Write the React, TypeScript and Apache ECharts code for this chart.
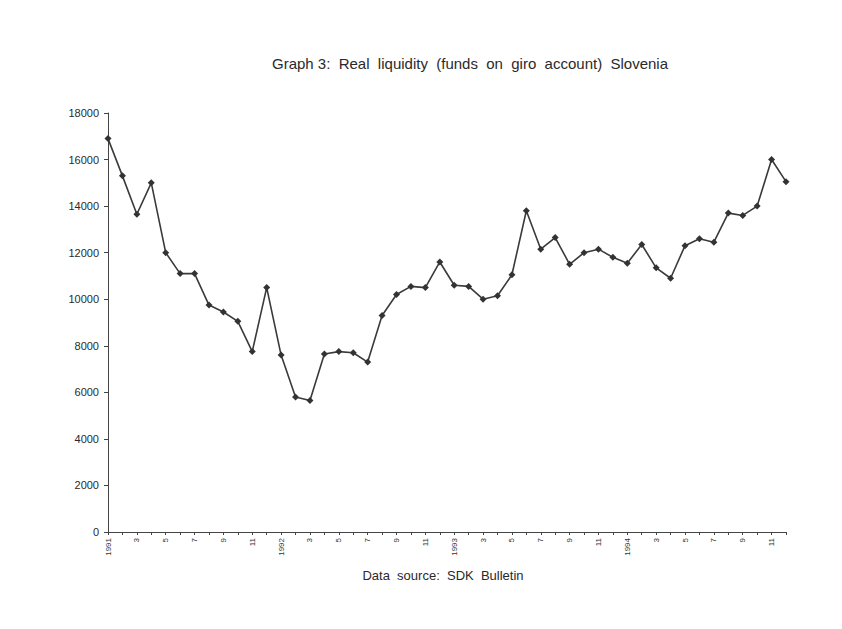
import React, { useEffect, useRef } from "react";
import * as echarts from "echarts";

const years = ["1991", "1992", "1993", "1994"];
const categories: string[] = years.flatMap((y) =>
  Array.from({ length: 12 }, (_, m) => (m === 0 ? y : String(m + 1)))
);

const liquidity1991 = [16900, 15300, 13650, 15000, 12000, 11100, 11100, 9750, 9450, 9050, 7750, 10500];
const liquidity1992 = [7600, 5800, 5650, 7650, 7750, 7700, 7300, 9300, 10200, 10550, 10500, 11600];
const liquidity1993 = [10600, 10550, 10000, 10150, 11050, 13800, 12150, 12650, 11500, 12000, 12150, 11800];
const liquidity1994 = [11550, 12350, 11350, 10900, 12300, 12600, 12450, 13700, 13600, 14000, 16000, 15050];

const values = [...liquidity1991, ...liquidity1992, ...liquidity1993, ...liquidity1994];

const titleText = "Graph 3:  Real  liquidity  (funds  on  giro  account)  Slovenia";
const sourceText = "Data  source:  SDK  Bulletin";

export default function App() {
  const ref = useRef<HTMLDivElement>(null);
  useEffect(() => {
    document.body.style.margin = "0";
    if (!ref.current) return;
    const chart = echarts.init(ref.current, null, { renderer: "svg" });
    const font = "'Liberation Sans', Arial, sans-serif";
    chart.setOption({
      animation: false,
      backgroundColor: "#ffffff",
      graphic: [
        {
          type: "text",
          x: 470,
          y: 56,
          style: {
            text: titleText,
            font: `15px ${font}`,
            fill: "#2a2a2a",
            textAlign: "center",
            textVerticalAlign: "top",
          },
        },
        {
          type: "text",
          x: 443,
          y: 569,
          style: {
            text: sourceText,
            font: `13px ${font}`,
            fill: "#2a2a2a",
            textAlign: "center",
            textVerticalAlign: "top",
          },
        },
      ],
      grid: { left: 108, right: 56, top: 113, bottom: 97, containLabel: false },
      xAxis: {
        type: "category",
        data: categories,
        boundaryGap: false,
        axisLine: { lineStyle: { color: "#444", width: 1 } },
        axisTick: { show: true, interval: 0, length: 3, lineStyle: { color: "#444" } },
        axisLabel: {
          interval: 1,
          rotate: 90,
          fontFamily: font,
          fontSize: 8,
          color: "#333",
          margin: 6,
        },
        splitLine: { show: false },
      },
      yAxis: {
        type: "value",
        min: 0,
        max: 18000,
        interval: 2000,
        axisLine: { show: true, lineStyle: { color: "#444", width: 1 } },
        axisTick: { show: true, length: 4, lineStyle: { color: "#444" } },
        axisLabel: {
          fontFamily: font,
          fontSize: 11,
          color: "#2a2a2a",
          margin: 9,
          formatter: (v: number) => String(v),
        },
        splitLine: { show: false },
      },
      series: [
        {
          type: "line",
          data: values,
          symbol: "diamond",
          symbolSize: 7,
          itemStyle: { color: "#333" },
          lineStyle: { color: "#3a3a3a", width: 1.6 },
        },
      ],
    });
    return () => chart.dispose();
  }, []);
  return <div ref={ref} style={{ width: 842, height: 629 }} />;
}
